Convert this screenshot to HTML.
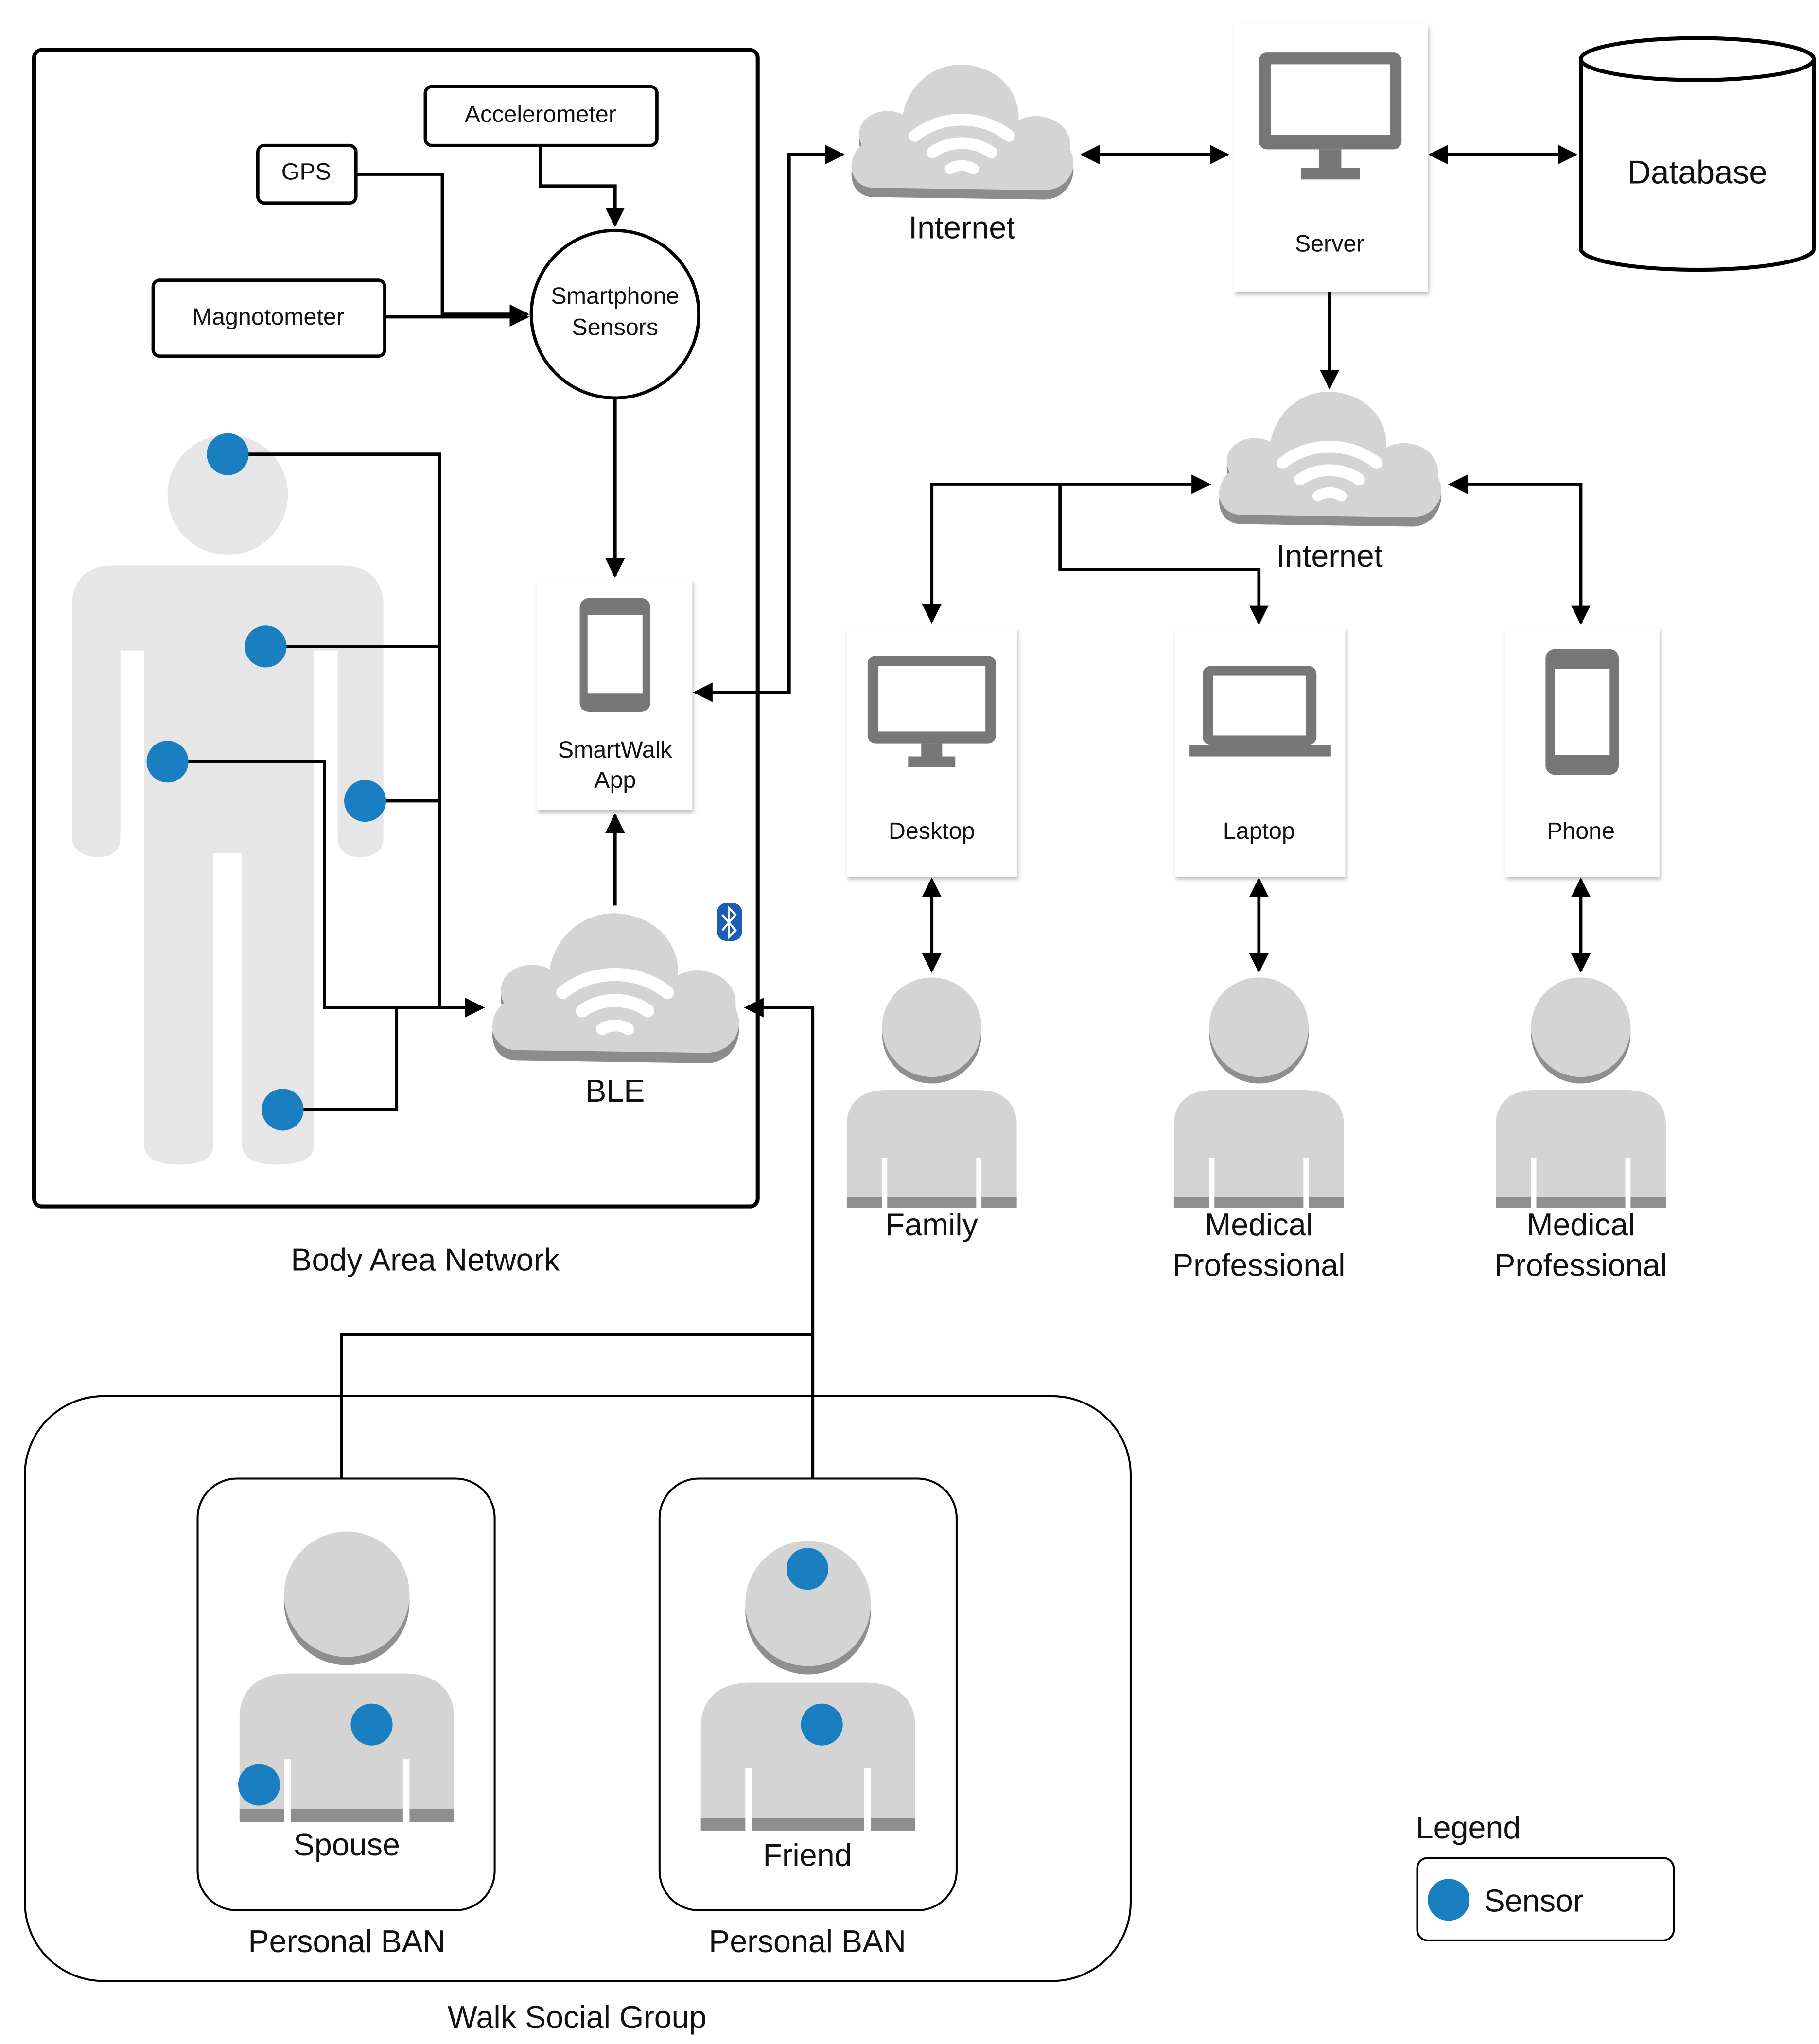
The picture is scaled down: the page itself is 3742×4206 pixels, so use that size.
<!DOCTYPE html>
<html><head><meta charset="utf-8"><style>
html,body{margin:0;padding:0;background:#fff}
svg{display:block}
text{font-family:"Liberation Sans",Arial,sans-serif;fill:#111;text-anchor:middle}
</style></head><body>
<svg width="3742" height="4206" viewBox="0 0 1390 1562" xmlns="http://www.w3.org/2000/svg">
<defs>
<marker id="ah" viewBox="0 0 10 10" refX="9" refY="5" markerWidth="6" markerHeight="6" orient="auto-start-reverse"><path d="M0,0L10,5L0,10z" fill="#000"/></marker>
<symbol id="cloud" viewBox="0 0 200 130">
<path d="M25,120 C5,120 0,95 15,82 C5,60 30,45 50,55 C55,25 85,5 115,15 C140,22 150,45 148,60 C165,50 195,60 192,85 C200,100 190,122 170,122 Z" fill="#8c8c8c"/>
<path d="M25,112 C5,112 0,88 15,76 C5,55 30,40 50,50 C55,20 85,0 115,10 C140,17 150,40 148,55 C165,45 195,55 192,80 C200,95 190,114 170,114 Z" fill="#d4d4d4"/>
<g fill="none" stroke="#fff" stroke-linecap="round">
<path d="M60,68 A58,50 0 0 1 140,68" stroke-width="10"/>
<path d="M75,82 A38,32 0 0 1 125,82" stroke-width="10"/>
<path d="M90,96 A16,13 0 0 1 110,96" stroke-width="9"/>
</g>
</symbol>
<symbol id="person" viewBox="0 0 130 180">
<circle cx="65" cy="45" r="38" fill="#8f8f8f"/>
<circle cx="65" cy="40" r="38" fill="#d4d4d4"/>
<path d="M0,175 L0,115 C0,97 12,88 30,88 L100,88 C118,88 130,97 130,115 L130,175 Z" fill="#d4d4d4"/>
<rect x="0" y="170" width="130" height="8" fill="#8f8f8f"/>
<rect x="27" y="140" width="4" height="38" fill="#fff"/>
<rect x="99" y="140" width="4" height="38" fill="#fff"/>
</symbol>
<filter id="sh" x="-10%" y="-10%" width="120%" height="120%"><feDropShadow dx="1" dy="2" stdDeviation="1.5" flood-color="#000" flood-opacity="0.25"/></filter>
</defs>

<!-- Body Area Network box -->
<rect x="26" y="38" width="553" height="884" rx="6" fill="none" stroke="#000" stroke-width="3"/>
<text x="325" y="971" font-size="24">Body Area Network</text>

<!-- sensor boxes -->
<g fill="#fff" stroke="#000" stroke-width="2.5">
<rect x="325" y="66" width="177" height="45" rx="5"/>
<rect x="197" y="111" width="75" height="44" rx="5"/>
<rect x="117" y="214" width="177" height="58" rx="5"/>
<circle cx="470" cy="240" r="64"/>
</g>
<text x="413" y="93" font-size="18">Accelerometer</text>
<text x="234" y="137" font-size="18">GPS</text>
<text x="205" y="248" font-size="18">Magnotometer</text>
<text x="470" y="232" font-size="18">Smartphone</text>
<text x="470" y="256" font-size="18">Sensors</text>

<g fill="none" stroke="#000" stroke-width="2.5">
<path d="M413,111 V142 H470 V172" marker-end="url(#ah)"/>
<path d="M272,133 H338 V240 H403" marker-end="url(#ah)"/>
<path d="M294,242 H403" marker-end="url(#ah)"/>
<path d="M470,304 V440" marker-end="url(#ah)"/>
<path d="M470,692 V623" marker-end="url(#ah)"/>
<path d="M531,529 H603 V118 H644" marker-start="url(#ah)" marker-end="url(#ah)"/>
<path d="M827,118 H938" marker-start="url(#ah)" marker-end="url(#ah)"/>
<path d="M1093,118 H1204" marker-start="url(#ah)" marker-end="url(#ah)"/>
<path d="M1016,223 V296" marker-end="url(#ah)"/>
<path d="M712,475 V370 H924" marker-start="url(#ah)" marker-end="url(#ah)"/>
<path d="M810,370 V435 H962 V476" marker-end="url(#ah)"/>
<path d="M1108,370 H1208 V476" marker-start="url(#ah)" marker-end="url(#ah)"/>
<path d="M712,672 V742" marker-start="url(#ah)" marker-end="url(#ah)"/>
<path d="M962,672 V742" marker-start="url(#ah)" marker-end="url(#ah)"/>
<path d="M1208,672 V742" marker-start="url(#ah)" marker-end="url(#ah)"/>
<path d="M261,1130 V1020 H621"/>
<path d="M621,1130 V770 H570" marker-end="url(#ah)"/>
</g>

<!-- human figure -->
<g fill="#e6e6e6">
<circle cx="174" cy="378" r="46"/>
<path d="M85,432 H263 C282,432 293,445 293,462 V640 C293,652 283,655 275,655 C265,655 258,650 258,640 V497 H240 V875 C240,885 230,890 212,890 C195,890 185,885 185,875 V652 H163 V875 C163,885 153,890 137,890 C120,890 110,885 110,875 V497 H92 V640 C92,650 85,655 75,655 C65,655 55,650 55,640 V462 C55,445 66,432 85,432 Z"/>
</g>
<g fill="none" stroke="#000" stroke-width="2.5">
<path d="M174,347 H336 V770 H369" marker-end="url(#ah)"/>
<path d="M203,494 H336"/>
<path d="M279,612 H336"/>
<path d="M128,582 H248 V770 H336"/>
<path d="M216,848 H303 V770"/>
</g>
<g fill="#1a7fc1">
<circle cx="174" cy="347" r="16"/>
<circle cx="203" cy="494" r="16"/>
<circle cx="128" cy="582" r="16"/>
<circle cx="279" cy="612" r="16"/>
<circle cx="216" cy="848" r="16"/>
</g>

<!-- SmartWalk app card -->
<rect x="410" y="443" width="119" height="176" fill="#fff" filter="url(#sh)"/>
<rect x="443" y="457" width="54" height="87" rx="7" fill="#777"/>
<rect x="449" y="470" width="42" height="60" fill="#fff"/>
<text x="470" y="579" font-size="18">SmartWalk</text>
<text x="470" y="602" font-size="18">App</text>

<!-- BLE cloud -->
<use href="#cloud" x="370" y="688" width="200" height="135"/>
<text x="470" y="842" font-size="24">BLE</text>
<rect x="548" y="690" width="19" height="29" rx="7" fill="#1a5fb4"/>
<path d="M552,699 L562,711 L557,716 V694 L562,699 L552,711" fill="none" stroke="#fff" stroke-width="1.6"/>

<!-- Internet top -->
<use href="#cloud" x="645" y="40" width="180" height="122"/>
<text x="735" y="182" font-size="24">Internet</text>

<!-- Server -->
<rect x="943" y="18" width="148" height="205" fill="#fff" filter="url(#sh)"/>
<rect x="962" y="40" width="109" height="74" rx="6" fill="#777"/>
<rect x="971" y="49" width="91" height="54" fill="#fff"/>
<rect x="1008" y="114" width="17" height="14" fill="#777"/>
<rect x="994" y="128" width="45" height="9" fill="#777"/>
<text x="1016" y="192" font-size="18">Server</text>

<!-- Database -->
<path d="M1208,45 V190 A89,16 0 0 0 1386,190 V45" fill="#fff" stroke="#000" stroke-width="3"/>
<ellipse cx="1297" cy="45" rx="89" ry="16" fill="#fff" stroke="#000" stroke-width="3"/>
<text x="1297" y="140" font-size="25">Database</text>

<!-- Internet 2 -->
<use href="#cloud" x="926" y="290" width="180" height="122"/>
<text x="1016" y="433" font-size="24">Internet</text>

<!-- device cards -->
<g filter="url(#sh)" fill="#fff">
<rect x="647" y="480" width="130" height="190"/>
<rect x="898" y="480" width="130" height="190"/>
<rect x="1150" y="480" width="118" height="190"/>
</g>
<rect x="663" y="501" width="98" height="67" rx="6" fill="#777"/>
<rect x="671" y="509" width="82" height="50" fill="#fff"/>
<rect x="704" y="568" width="16" height="10" fill="#777"/>
<rect x="694" y="578" width="36" height="8" fill="#777"/>
<rect x="919" y="509" width="87" height="60" rx="6" fill="#777"/>
<rect x="927" y="516" width="71" height="46" fill="#fff"/>
<rect x="909" y="569" width="108" height="9" fill="#777"/>
<rect x="1181" y="496" width="56" height="96" rx="7" fill="#777"/>
<rect x="1188" y="511" width="42" height="66" fill="#fff"/>
<text x="712" y="641" font-size="18">Desktop</text>
<text x="962" y="641" font-size="18">Laptop</text>
<text x="1208" y="641" font-size="18">Phone</text>

<!-- persons -->
<use href="#person" x="647" y="745" width="130" height="180"/>
<use href="#person" x="897" y="745" width="130" height="180"/>
<use href="#person" x="1143" y="745" width="130" height="180"/>
<text x="712" y="944" font-size="24">Family</text>
<text x="962" y="944" font-size="24">Medical</text>
<text x="962" y="975" font-size="24">Professional</text>
<text x="1208" y="944" font-size="24">Medical</text>
<text x="1208" y="975" font-size="24">Professional</text>

<!-- Walk social group -->
<rect x="19" y="1067" width="845" height="447" rx="60" fill="none" stroke="#000" stroke-width="1.5"/>
<text x="441" y="1550" font-size="24">Walk Social Group</text>
<rect x="151" y="1130" width="227" height="330" rx="30" fill="none" stroke="#000" stroke-width="1.5"/>
<rect x="504" y="1130" width="227" height="330" rx="30" fill="none" stroke="#000" stroke-width="1.5"/>
<use href="#person" x="183" y="1168" width="164" height="227" preserveAspectRatio="none"/>
<use href="#person" x="535" y="1175" width="165" height="227" preserveAspectRatio="none"/>
<g fill="#1a7fc1">
<circle cx="284" cy="1318" r="16"/>
<circle cx="198" cy="1364" r="16"/>
<circle cx="617" cy="1199" r="16"/>
<circle cx="628" cy="1318" r="16"/>
</g>
<text x="265" y="1418" font-size="24">Spouse</text>
<text x="617" y="1426" font-size="24">Friend</text>
<text x="265" y="1492" font-size="24">Personal BAN</text>
<text x="617" y="1492" font-size="24">Personal BAN</text>

<!-- Legend -->
<text x="1122" y="1405" font-size="24">Legend</text>
<rect x="1083" y="1420" width="196" height="63" rx="8" fill="none" stroke="#000" stroke-width="1.5"/>
<circle cx="1107" cy="1452" r="16" fill="#1a7fc1"/>
<text x="1172" y="1461" font-size="24">Sensor</text>
</svg>
</body></html>
